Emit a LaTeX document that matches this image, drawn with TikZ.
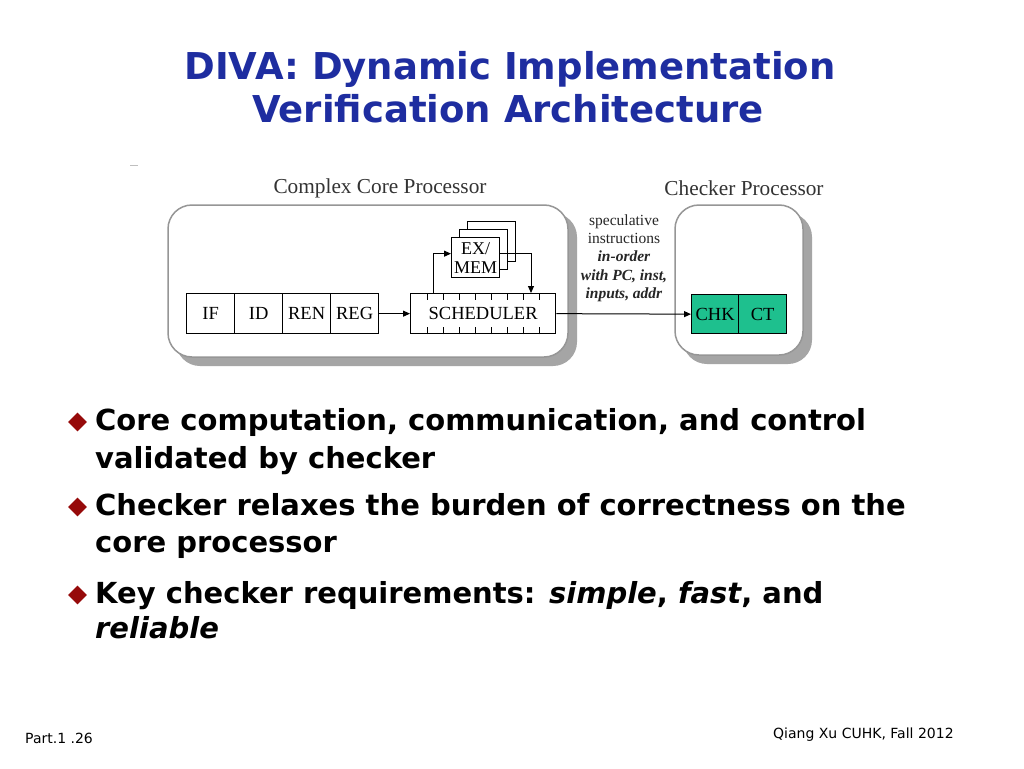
\documentclass[tikz,border=0pt]{standalone}
\usepackage{fontspec}
\setmainfont{Liberation Serif}
\newfontfamily\slidefont{DejaVu Sans}
\usetikzlibrary{shapes.geometric,arrows.meta,calc}
\definecolor{titleblue}{RGB}{30,45,160}
\definecolor{bulletred}{RGB}{150,10,10}
\definecolor{chkgreen}{RGB}{30,192,142}
\definecolor{shadowgray}{RGB}{165,165,165}
\definecolor{bordergray}{RGB}{150,150,150}
\tikzset{
  procbox/.style={draw=bordergray, line width=1.5pt, fill=white, rounded corners=24pt},
  procshadow/.style={fill=shadowgray, rounded corners=24pt},
  stage/.style={draw=black, line width=1.3pt, fill=white, inner sep=0pt, anchor=north west,
    minimum height=40pt, font=\fontsize{18.5}{20}\selectfont},
  exbox/.style={draw=black, line width=1.3pt, fill=white, inner sep=0pt, anchor=north west,
    minimum width=48pt, minimum height=40pt},
  greenstage/.style={stage, fill=chkgreen, minimum height=39pt, font=\fontsize{18.5}{20}\selectfont},
  arr/.style={line width=1pt, -{Triangle[length=7pt,width=6pt]}},
  proclabel/.style={font=\fontsize{21.3}{23}\selectfont, text=black!80},
  bullettext/.style={anchor=base west, inner sep=0pt, font=\slidefont\bfseries\fontsize{29}{34}\selectfont},
  bulletmark/.style={diamond, fill=bulletred, inner sep=0pt, minimum width=19pt, minimum height=19pt},
  titletext/.style={anchor=base, inner sep=0pt, text=titleblue, font=\slidefont\bfseries\fontsize{37}{44}\selectfont},
  foot/.style={anchor=base west, inner sep=0pt, font=\slidefont\fontsize{14}{16}\selectfont},
}
\begin{document}
\begin{tikzpicture}[x=1pt,y=-1pt]
\useasboundingbox[fill=white] (0,0) rectangle (1024,768);

% title
\node[titletext] (t1) at (510,79) {DIVA: Dynamic Implementation};
\node[titletext] (t2) at (508,122) {Verification Architecture};

% small artifact
\draw[black!25, line width=1pt] (130,165) -- (138,165);

% processor labels
\node[proclabel] (lcore) at (380,188) {Complex Core Processor};
\node[proclabel] (lchk) at (744,188) {Checker Processor};

% processor containers with shadows
\fill[procshadow] (176,213) rectangle (577,366);
\draw[procbox] (168,205) rectangle (568,357);
\fill[procshadow] (683,213) rectangle (812,364);
\draw[procbox] (675,205) rectangle (803,355);

% pipeline front end
\node[stage, minimum width=48pt] (if) at (186,293) {IF};
\node[stage, minimum width=48pt] (id) at (234,293) {ID};
\node[stage, minimum width=48pt] (ren) at (282,293) {REN};
\node[stage, minimum width=48pt] (reg) at (330,293) {REG};

% scheduler
\node[stage, minimum width=145pt] (sch) at (410,293) {SCHEDULER};
\foreach \i in {0,...,7}{
  \draw[line width=1pt] ($(sch.north west)+(17+16*\i,0)$) -- ++(0,7);
  \draw[line width=1pt] ($(sch.south west)+(17+16*\i,0)$) -- ++(0,-7);
}

% EX/MEM stack
\node[exbox] (ex3) at (467,221) {};
\node[exbox] (ex2) at (459,229) {};
\node[exbox, align=center, font=\fontsize{18}{19}\selectfont] (exmem) at (451,237) {EX/\\MEM};

% checker stages
\node[greenstage, minimum width=47pt] (chk) at (691,294) {CHK};
\node[greenstage, minimum width=48pt] (ct) at (738,294) {CT};

% connectors
\draw[arr] (reg.east) -- (sch.west);
\draw[arr] ($(sch.north west)+(23,0)$) |- ($(exmem.west)+(0,-4)$);
\draw[arr] ($(exmem.east)+(0,-4)$) -| ($(sch.north west)+(121,0)$);
\draw[arr] (sch.east) -- (chk.west);

% connector label
\node[align=center, inner sep=0pt, font=\fontsize{15.5}{18.3}\selectfont, text=black!85] (lbl) at (624,258)
  {speculative\\instructions\\\textbf{\textit{in-order}}\\\textbf{\textit{with PC, inst,}}\\\textbf{\textit{inputs, addr}}};

% bullets
\node[bulletmark] (m1) at (77.5,422) {};
\node[bullettext] (b1a) at (95,430) {Core computation, communication, and control};
\node[bullettext] (b1b) at (95,468) {validated by checker};
\node[bulletmark] (m2) at (77.5,507) {};
\node[bullettext] (b2a) at (95,515) {Checker relaxes the burden of correctness on the};
\node[bullettext] (b2b) at (95,552) {core processor};
\node[bulletmark] (m3) at (77.5,595) {};
\node[bullettext] (b3a) at (95,603) {Key checker requirements: \textit{simple}, \textit{fast}, and};
\node[bullettext] (b3b) at (95,638) {\textit{reliable}};

% footer
\node[foot] (f1) at (25,743) {Part.1 .26};
\node[foot] (f2) at (773,738) {Qiang Xu CUHK, Fall 2012};
\end{tikzpicture}
\end{document}
